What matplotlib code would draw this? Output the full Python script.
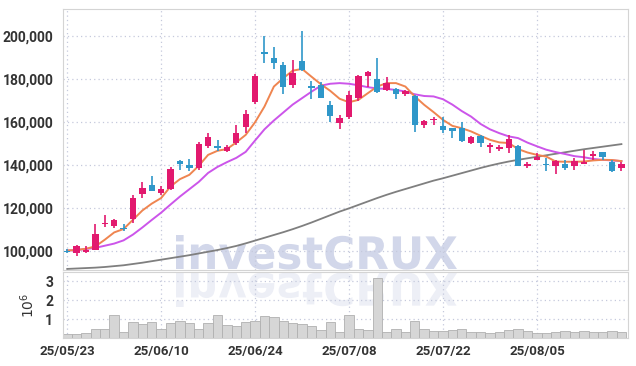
import numpy as np
import matplotlib
matplotlib.use("Agg")
import matplotlib.pyplot as plt
import matplotlib.ticker as mticker
import matplotlib.transforms as mtransforms
from matplotlib.textpath import TextPath
from matplotlib.patches import PathPatch
from matplotlib.font_manager import FontProperties

# trading-day labels (every 10th session)
tick_labels = ["25/05/23", "25/06/10", "25/06/24", "25/07/08", "25/07/22", "25/08/05"]

# daily OHLC (KRW)
opens = [99800, 99000, 99400, 100100, 112600, 111300, 110500, 114700, 126400, 130500,
         126800, 128700, 141800, 139800, 138300, 148500, 148800, 146600, 150100, 157800,
         169400, 192700, 189900, 186500, 177200, 188400, 176700, 177200, 167900, 159200,
         162000, 171000, 181100, 180000, 174700, 175300, 172900, 171800, 158300, 160600,
         158100, 157000, 157300, 150100, 153200, 148200, 147300, 147600, 148500, 139500,
         142300, 140500, 139200, 140500, 139500, 140300, 143900, 146000, 141500, 138700]
closes = [99300, 102300, 100400, 107900, 113100, 114400, 110100, 124500, 129200, 128000,
          128700, 138100, 140300, 138300, 149800, 152900, 148000, 148200, 155000, 163700,
          181100, 191700, 187300, 176000, 182900, 184200, 175600, 171300, 162900, 161700,
          172500, 181100, 183400, 173800, 178000, 172900, 174100, 158300, 160500, 161400,
          156300, 155500, 151200, 152900, 150100, 149000, 148200, 151900, 139500, 140500,
          143600, 139900, 141900, 138700, 141900, 141500, 145000, 143400, 136900, 140300]
highs = [100800, 102800, 102000, 112400, 116400, 114700, 112600, 126000, 131800, 134600,
         129900, 138900, 142300, 142800, 150800, 155000, 151300, 149300, 158600, 165600,
         182200, 199700, 195000, 187700, 188800, 202300, 178800, 178300, 169800, 163200,
         174100, 181800, 183700, 189600, 180800, 175900, 174900, 172300, 160900, 162400,
         162200, 157300, 160100, 153500, 153800, 150100, 149300, 153900, 149300, 141500,
         145400, 143100, 142000, 142300, 143100, 147000, 146200, 146000, 142000, 141100]
lows = [98700, 97600, 98900, 100100, 111000, 110500, 109000, 113100, 124500, 127600,
        126000, 128400, 137700, 137300, 137700, 147800, 146600, 145900, 149300, 154700,
        168200, 187300, 184500, 172800, 175700, 183800, 170700, 171000, 159800, 156700,
        161400, 169800, 176400, 173300, 174100, 170700, 171800, 155200, 157300, 158600,
        154700, 152400, 150800, 149600, 148200, 145400, 146200, 145400, 139500, 138500,
        142000, 136900, 135800, 137700, 137700, 140300, 142000, 142300, 136400, 137300]

# moving averages
ma_short = [100100, 100300, 100900, 102000, 105100, 108500, 110100, 114400, 118700, 121900,
            124500, 129900, 133300, 135300, 139500, 144600, 146500, 147300, 150400, 153900,
            159800, 167100, 176400, 180300, 183800, 184600, 181000, 177500, 174400, 170700,
            169100, 170200, 173300, 176400, 178000, 178000, 176400, 171800, 167900, 164500,
            160900, 158100, 157000, 155500, 153500, 151600, 150400, 150100, 147300, 145700,
            144600, 143800, 141500, 141400, 141400, 141500, 142000, 142300, 142200, 141700]
ma_mid = [100000, 100300, 100800, 101300, 102300, 103300, 104800, 107500, 110800, 114300,
          117700, 121500, 125200, 128600, 132000, 136200, 139000, 141200, 143200, 146000,
          151300, 156500, 160600, 164300, 168000, 171000, 174000, 176800, 177700, 178000,
          177700, 177000, 176100, 175500, 175300, 174800, 174100, 172800, 172000, 171800,
          170500, 168000, 165000, 162400, 159000, 156500, 154700, 153200, 152400, 150300,
          148600, 147000, 145900, 145000, 144000, 143500, 142700, 142300, 142000, 141700]
ma_long = [91500, 91700, 91900, 92100, 92400, 92800, 93200, 93800, 94400, 95100,
           95800, 96500, 97200, 97900, 98700, 99500, 100300, 101200, 102200, 103400,
           104700, 106000, 107300, 108600, 110000, 111500, 113100, 114800, 116500, 118200,
           119700, 121300, 122900, 124500, 126000, 127400, 128700, 130000, 131300, 132600,
           133700, 134900, 136100, 137300, 138500, 139600, 140600, 141500, 142300, 143000,
           143700, 144400, 145100, 145800, 146500, 147200, 147800, 148400, 149000, 149600]

# volume in millions of shares
volume = [0.20, 0.20, 0.25, 0.50, 0.50, 1.22, 0.32, 0.83, 0.74, 0.83,
          0.50, 0.78, 0.89, 0.78, 0.50, 0.78, 1.22, 0.69, 0.64, 0.83,
          0.90, 1.17, 1.10, 0.90, 0.78, 0.74, 0.64, 0.43, 0.83, 0.30,
          1.22, 0.50, 0.43, 3.17, 0.30, 0.46, 0.30, 0.90, 0.46, 0.37,
          0.37, 0.43, 0.50, 0.32, 0.32, 0.25, 0.32, 0.43, 0.50, 0.39,
          0.25, 0.28, 0.34, 0.37, 0.32, 0.35, 0.32, 0.32, 0.37, 0.32]

UP = "#e2196e"
DOWN = "#2f97c9"
GRID = "#c5c9dc"
SPINE = "#d4d4d4"
TXT = "#333333"

plt.rcParams["font.family"] = ["Roboto", "DejaVu Sans"]

o = np.array(opens)
c = np.array(closes)
h = np.array(highs)
l = np.array(lows)
x = np.arange(len(o))
up = c >= o
cols = np.where(up, UP, DOWN)

fig = plt.figure(figsize=(6.36, 3.66), dpi=100, facecolor="white")
ax = fig.add_axes([63 / 636, 1 - 270 / 366, 565 / 636, 261 / 366], facecolor="none")
axv = fig.add_axes([63 / 636, 1 - 338 / 366, 565 / 636, 66 / 366], facecolor="none", sharex=ax)

# watermark + reflection
tp = TextPath((0, 0), "investCRUX", size=100, prop=FontProperties(family="DejaVu Sans", weight="bold"))
ext = tp.get_extents()
sx = 281 / ext.width
sy = 34 / ext.ymax
tr = mtransforms.Affine2D().scale(sx, sy).translate(176 - ext.xmin * sx, 366 - 269)
fig.add_artist(PathPatch(tp, transform=tr, facecolor="#d2d7ea", edgecolor="none", zorder=-5))
tr2 = mtransforms.Affine2D().scale(sx, -sy).translate(176 - ext.xmin * sx, 366 - 273)
fig.add_artist(PathPatch(tp, transform=tr2, facecolor="#d2d7ea", edgecolor="none", alpha=0.4, zorder=-5))

# price panel
ax.plot(x, ma_long, color="#7f7f7f", lw=1.3, zorder=2)
ax.plot(x, ma_mid, color="#cc55ea", lw=1.4, zorder=2)
ax.plot(x, ma_short, color="#ef8550", lw=1.4, zorder=2)
ax.vlines(x, l, h, colors=cols, lw=1.2, zorder=3)
body = np.maximum(np.abs(c - o), 500)
ax.bar(x, body, bottom=np.minimum(o, c), width=0.68, color=cols, zorder=4)

ax.set_xlim(-0.45, 59.7)
ax.set_ylim(91000, 212500)
ax.yaxis.set_major_locator(mticker.MultipleLocator(20000))
ax.yaxis.set_major_formatter(mticker.FuncFormatter(lambda v, p: f"{v:,.0f}"))
ax.set_xticks(np.arange(0, 60, 10))
ax.tick_params(axis="x", labelbottom=False, length=0)
ax.tick_params(axis="y", length=0, pad=7, labelsize=10, labelcolor=TXT)
for t in ax.get_yticklabels():
    t.set_fontweight("bold")
ax.grid(True, color=GRID, ls=(0, (1, 2.5)), lw=0.9)
for s in ax.spines.values():
    s.set_color(SPINE)

# volume panel
axv.bar(x, volume, width=1.0, color="#d6d6d6", edgecolor="#b0b0b0", lw=0.6, zorder=2)
axv.set_ylim(0, 3.5)
axv.set_yticks([1, 2, 3])
axv.set_xticks(np.arange(0, 60, 10))
axv.set_xticklabels(tick_labels)
axv.tick_params(length=0, labelcolor=TXT, labelsize=10)
axv.tick_params(axis="y", pad=7)
axv.tick_params(axis="x", pad=5, labelsize=9.5)
for t in axv.get_yticklabels() + axv.get_xticklabels():
    t.set_fontweight("bold")
axv.set_ylabel(r"$10^6$", color=TXT, fontsize=10, labelpad=6)
axv.grid(True, color=GRID, ls=(0, (1, 2.5)), lw=0.9)
for s in axv.spines.values():
    s.set_color(SPINE)

fig.savefig("out.png", dpi=100, facecolor="white")
